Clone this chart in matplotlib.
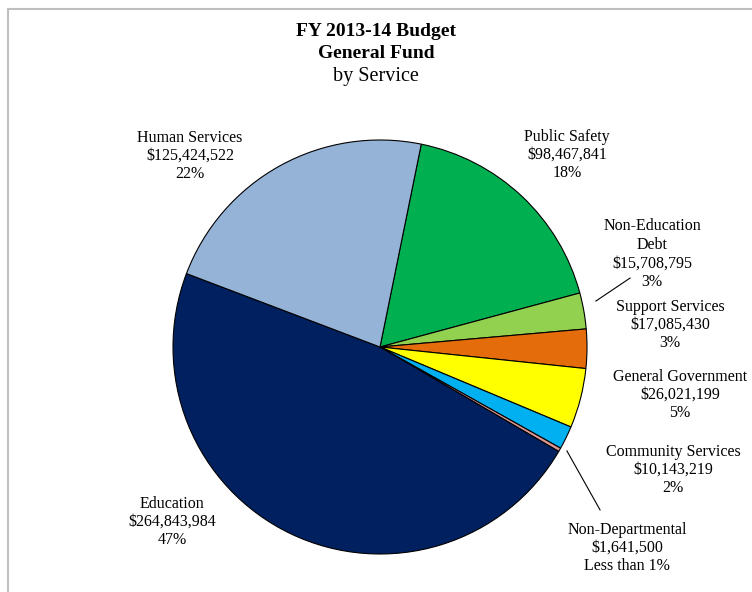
import matplotlib.pyplot as plt
from matplotlib.patches import Rectangle

# General Fund by service, clockwise from Public Safety
services = ['Public Safety', 'Non-Education\nDebt', 'Support Services', 'General Government',
            'Community Services', 'Non-Departmental', 'Education', 'Human Services']
amounts = [98467841, 15708795, 17085430, 26021199, 10143219, 1641500, 264843984, 125424522]
pct_text = ['18%', '3%', '3%', '5%', '2%', 'Less than 1%', '47%', '22%']
colors = ['#00B050', '#92D050', '#E46C0A', '#FFFF00', '#00B0F0', '#D99694', '#002060', '#95B3D7']

# label centres in axes data units (pie radius = 1)
label_pos = [(0.903, 0.928), (1.314, 0.449), (1.401, 0.106), (1.449, -0.232),
             (1.415, -0.594), (1.193, -0.971), (-1.005, -0.845), (-0.918, 0.923)]

plt.rcParams['font.family'] = ['Liberation Serif', 'DejaVu Serif']

fig = plt.figure(figsize=(7.52, 5.92), dpi=100)
fig.patches.append(Rectangle((8 / 752, -0.1), 1.2, 1 - 9 / 592 + 0.1, transform=fig.transFigure,
                             fill=False, edgecolor='#bfbfbf', linewidth=1.5))

cx, cy, r = 380, 347, 207
ax = fig.add_axes([(cx - r) / 752, (592 - cy - r) / 592, 2 * r / 752, 2 * r / 592])
ax.pie(amounts, colors=colors, startangle=78.5, counterclock=False,
       wedgeprops=dict(edgecolor='black', linewidth=0.8))
ax.set_xlim(-1, 1)
ax.set_ylim(-1, 1)
ax.set_aspect('equal')
ax.axis('off')

for name, amt, p, (x, y) in zip(services, amounts, pct_text, label_pos):
    ax.text(x, y, f'{name}\n${amt:,}\n{p}', ha='center', va='center', fontsize=11.5,
            linespacing=1.2, clip_on=False)

# leader lines for the two thin slices
ax.plot([1.043, 1.208], [0.222, 0.333], color='black', linewidth=0.8, clip_on=False)
ax.plot([0.903, 1.063], [-0.502, -0.787], color='black', linewidth=0.8, clip_on=False)

fig.text(0.5, 1 - 31 / 592, 'FY 2013-14 Budget', ha='center', va='center', fontsize=14, fontweight='bold')
fig.text(0.5, 1 - 53 / 592, 'General Fund', ha='center', va='center', fontsize=14, fontweight='bold')
fig.text(0.5, 1 - 77 / 592, 'by Service', ha='center', va='center', fontsize=14.5)

fig.savefig('out.png', dpi=100)
